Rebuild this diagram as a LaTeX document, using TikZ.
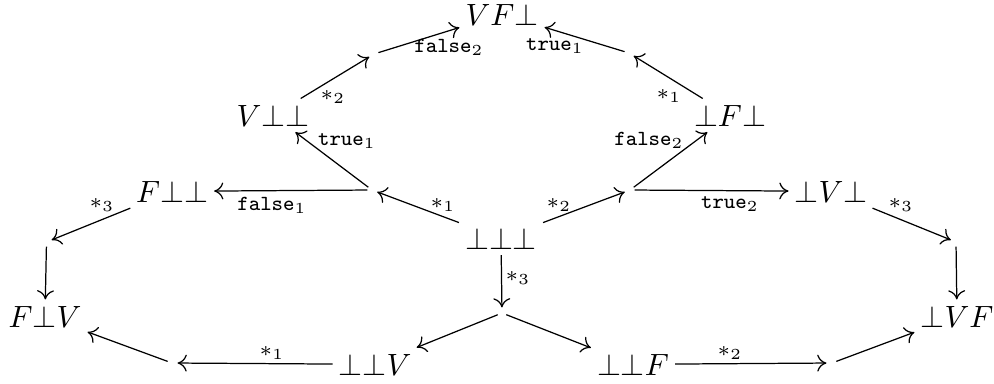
\documentclass[tikz,border=0pt]{standalone}
\usetikzlibrary{arrows.meta}
\begin{document}
\begin{tikzpicture}[x=0.325pt,y=-0.325pt,
  st/.style={inner sep=2pt, outer sep=0pt, anchor=base},
  lab/.style={inner sep=0pt, font=\scriptsize},
  ar/.style={-{Computer Modern Rightarrow[length=3pt,width=5.5pt]}, line width=0.4pt},
  into/.style={shorten >=1.8pt},
  outof/.style={shorten <=1.5pt}]
\useasboundingbox (0,0) rectangle (994,383);
% states
\node[st] (vfb) at (502,25)  {$VF\bot$};
\node[st] (vbb) at (273,126) {$V\bot\bot$};
\node[st] (bfb) at (730,126) {$\bot F\bot$};
\node[st] (fbb) at (172,202) {$F\bot\bot$};
\node[st] (bvb) at (831,202) {$\bot V\bot$};
\node[st] (bbb) at (501,249) {$\bot\bot\bot$};
\node[st] (fbv) at (45,327)  {$F\bot V$};
\node[st] (bvf) at (957,327) {$\bot VF$};
\node[st] (bbv) at (375,375) {$\bot\bot V$};
\node[st] (bbf) at (633,375) {$\bot\bot F$};
% branching points
\coordinate (p1) at (372,190);
\coordinate (p2) at (630,190);
\coordinate (p3) at (502,313);
\coordinate (q1) at (374,54);
\coordinate (q2) at (629,53);
\coordinate (r1) at (46.5,242);
\coordinate (r2) at (956,242);
\coordinate (s1) at (172,363);
\coordinate (s2) at (832,363);
% connectors
\draw[ar,into] (bbb) -- (p1);
\draw[ar,into] (bbb) -- (p2);
\draw[ar,into] (bbb) -- (p3);
\draw[ar,outof] (p1) -- (vbb);
\draw[ar,outof] (p1) -- (fbb);
\draw[ar,outof] (p2) -- (bfb);
\draw[ar,outof] (p2) -- (bvb);
\draw[ar,outof] (p3) -- (bbv);
\draw[ar,outof] (p3) -- (bbf);
\draw[ar,into] (vbb) -- (q1);
\draw[ar,outof] (q1) -- (vfb);
\draw[ar,into] (bfb) -- (q2);
\draw[ar,outof] (q2) -- (vfb);
\draw[ar,into] (fbb) -- (r1);
\draw[ar,outof] (r1) -- (fbv);
\draw[ar,into] (bvb) -- (r2);
\draw[ar,outof] (r2) -- (bvf);
\draw[ar,into] (bbv) -- (s1);
\draw[ar,outof] (s1) -- (fbv);
\draw[ar,into] (bbf) -- (s2);
\draw[ar,outof] (s2) -- (bvf);
% labels
\node[lab] (l1)  at (443,205) {$*_1$};
\node[lab] (l2)  at (559,205) {$*_2$};
\node[lab] (l3)  at (518,278) {$*_3$};
\node[lab] (l4)  at (347,141) {$\mathtt{true}_1$};
\node[lab] (l5)  at (272,205) {$\mathtt{false}_1$};
\node[lab] (l6)  at (649,140) {$\mathtt{false}_2$};
\node[lab] (l7)  at (730,204) {$\mathtt{true}_2$};
\node[lab] (l8)  at (333,97)  {$*_2$};
\node[lab] (l9)  at (449,47)  {$\mathtt{false}_2$};
\node[lab] (l10) at (669,96)  {$*_1$};
\node[lab] (l11) at (555,46)  {$\mathtt{true}_1$};
\node[lab] (l12) at (102,205) {$*_3$};
\node[lab] (l13) at (901,205) {$*_3$};
\node[lab] (l14) at (272,353) {$*_1$};
\node[lab] (l15) at (730,353) {$*_2$};
\end{tikzpicture}
\end{document}
